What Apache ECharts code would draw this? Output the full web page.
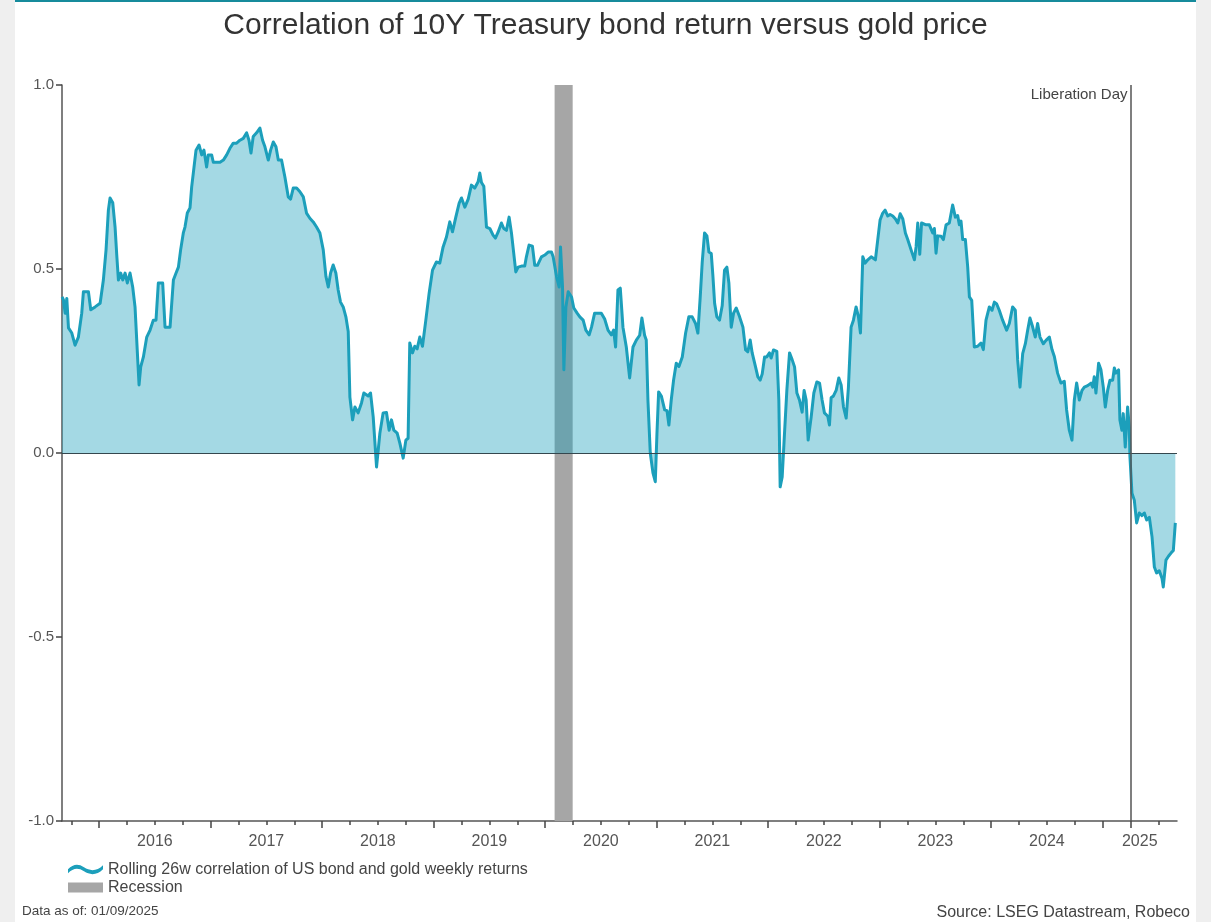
<!DOCTYPE html>
<html>
<head>
<meta charset="utf-8">
<title>Correlation of 10Y Treasury bond return versus gold price</title>
<script src="https://cdn.jsdelivr.net/npm/echarts@6/dist/echarts.min.js"></script>
<style>
  html, body { margin: 0; padding: 0; width: 1211px; height: 922px; background: #efefef; overflow: hidden; }
  #card { position: absolute; left: 15px; top: 0; width: 1181px; height: 922px; background: #fff; border-top: 2px solid #168b9c; box-sizing: border-box; }
  #chart { position: absolute; left: 0; top: 0; width: 1211px; height: 922px; }
</style>
</head>
<body>
<div id="card"></div>
<div id="chart"></div>
<script>
// Observation dates as decimal years (weekly series, Sep 2015 - Sep 2025)
const obsTime = [
  2015.668, 2015.680, 2015.695, 2015.710, 2015.725, 2015.755, 2015.784, 2015.814, 2015.844, 2015.859,
  2015.904, 2015.925, 2015.964, 2016.009, 2016.038, 2016.062, 2016.083, 2016.098, 2016.122, 2016.143,
  2016.158, 2016.173, 2016.194, 2016.212, 2016.233, 2016.253, 2016.277, 2016.301, 2016.322, 2016.343,
  2016.358, 2016.373, 2016.397, 2016.427, 2016.457, 2016.486, 2016.510, 2016.531, 2016.570, 2016.591,
  2016.636, 2016.666, 2016.690, 2016.711, 2016.731, 2016.755, 2016.770, 2016.791, 2016.815, 2016.830,
  2016.851, 2016.869, 2016.896, 2016.920, 2016.940, 2016.964, 2016.979, 2017.009, 2017.024, 2017.054,
  2017.084, 2017.114, 2017.144, 2017.173, 2017.203, 2017.233, 2017.263, 2017.293, 2017.323, 2017.344,
  2017.362, 2017.382, 2017.412, 2017.442, 2017.466, 2017.487, 2017.517, 2017.538, 2017.562, 2017.586,
  2017.607, 2017.636, 2017.666, 2017.696, 2017.717, 2017.741, 2017.771, 2017.801, 2017.831, 2017.860,
  2017.890, 2017.920, 2017.950, 2017.980, 2018.010, 2018.034, 2018.055, 2018.076, 2018.099, 2018.123,
  2018.144, 2018.165, 2018.189, 2018.213, 2018.234, 2018.249, 2018.273, 2018.294, 2018.323, 2018.353,
  2018.374, 2018.413, 2018.434, 2018.458, 2018.488, 2018.518, 2018.547, 2018.577, 2018.601, 2018.622,
  2018.643, 2018.673, 2018.697, 2018.727, 2018.751, 2018.771, 2018.786, 2018.810, 2018.831, 2018.852,
  2018.876, 2018.900, 2018.930, 2018.960, 2018.990, 2019.025, 2019.055, 2019.085, 2019.115, 2019.145,
  2019.169, 2019.199, 2019.229, 2019.250, 2019.280, 2019.310, 2019.339, 2019.369, 2019.399, 2019.414,
  2019.429, 2019.450, 2019.474, 2019.504, 2019.533, 2019.554, 2019.578, 2019.608, 2019.629, 2019.653,
  2019.677, 2019.698, 2019.713, 2019.737, 2019.758, 2019.788, 2019.817, 2019.832, 2019.856, 2019.886,
  2019.907, 2019.931, 2019.946, 2019.967, 2019.997, 2020.027, 2020.057, 2020.072, 2020.102, 2020.126,
  2020.138, 2020.156, 2020.168, 2020.186, 2020.207, 2020.237, 2020.257, 2020.287, 2020.311, 2020.341,
  2020.365, 2020.395, 2020.416, 2020.444, 2020.474, 2020.504, 2020.534, 2020.564, 2020.594, 2020.614,
  2020.632, 2020.653, 2020.674, 2020.698, 2020.728, 2020.758, 2020.788, 2020.818, 2020.848, 2020.868,
  2020.892, 2020.907, 2020.922, 2020.943, 2020.967, 2020.988, 2021.003, 2021.018, 2021.042, 2021.072,
  2021.093, 2021.110, 2021.131, 2021.152, 2021.176, 2021.200, 2021.230, 2021.260, 2021.289, 2021.319,
  2021.349, 2021.370, 2021.391, 2021.409, 2021.430, 2021.451, 2021.469, 2021.490, 2021.505, 2021.520,
  2021.540, 2021.564, 2021.588, 2021.609, 2021.630, 2021.648, 2021.669, 2021.690, 2021.714, 2021.744,
  2021.774, 2021.798, 2021.818, 2021.839, 2021.857, 2021.887, 2021.908, 2021.929, 2021.947, 2021.968,
  2021.988, 2022.012, 2022.027, 2022.048, 2022.078, 2022.096, 2022.108, 2022.126, 2022.147, 2022.168,
  2022.192, 2022.216, 2022.237, 2022.258, 2022.281, 2022.305, 2022.323, 2022.341, 2022.359, 2022.386,
  2022.410, 2022.437, 2022.461, 2022.484, 2022.505, 2022.535, 2022.550, 2022.565, 2022.586, 2022.610,
  2022.634, 2022.655, 2022.676, 2022.700, 2022.720, 2022.744, 2022.765, 2022.789, 2022.810, 2022.828,
  2022.849, 2022.870, 2022.894, 2022.924, 2022.962, 2022.983, 2023.004, 2023.028, 2023.049, 2023.073,
  2023.094, 2023.118, 2023.142, 2023.163, 2023.184, 2023.208, 2023.231, 2023.252, 2023.282, 2023.312,
  2023.327, 2023.342, 2023.360, 2023.376, 2023.386, 2023.416, 2023.446, 2023.476, 2023.491, 2023.506,
  2023.521, 2023.551, 2023.572, 2023.596, 2023.625, 2023.655, 2023.679, 2023.700, 2023.715, 2023.730,
  2023.745, 2023.769, 2023.790, 2023.805, 2023.826, 2023.849, 2023.879, 2023.909, 2023.930, 2023.954,
  2023.984, 2024.008, 2024.029, 2024.050, 2024.073, 2024.103, 2024.139, 2024.163, 2024.193, 2024.217,
  2024.238, 2024.259, 2024.283, 2024.307, 2024.328, 2024.348, 2024.372, 2024.396, 2024.417, 2024.438,
  2024.468, 2024.492, 2024.522, 2024.546, 2024.567, 2024.596, 2024.626, 2024.656, 2024.677, 2024.701,
  2024.725, 2024.746, 2024.767, 2024.791, 2024.815, 2024.836, 2024.866, 2024.896, 2024.911, 2024.925,
  2024.940, 2024.964, 2024.985, 2025.006, 2025.024, 2025.045, 2025.066, 2025.090, 2025.105, 2025.119,
  2025.143, 2025.155, 2025.173, 2025.185, 2025.203, 2025.224, 2025.239, 2025.245, 2025.263, 2025.284,
  2025.305, 2025.329, 2025.353, 2025.374, 2025.395, 2025.419, 2025.443, 2025.464, 2025.484, 2025.508,
  2025.532, 2025.544, 2025.568, 2025.592, 2025.613, 2025.634, 2025.652
];

// Rolling 26-week correlation of US 10Y bond and gold weekly returns
const rollingCorr = [
  0.424, 0.416, 0.380, 0.420, 0.340, 0.326, 0.293, 0.315, 0.380, 0.438,
  0.438, 0.389, 0.397, 0.407, 0.470, 0.552, 0.660, 0.693, 0.680, 0.614,
  0.538, 0.470, 0.489, 0.470, 0.489, 0.462, 0.489, 0.451, 0.397, 0.272,
  0.185, 0.234, 0.261, 0.315, 0.334, 0.361, 0.361, 0.462, 0.462, 0.342,
  0.342, 0.470, 0.489, 0.505, 0.552, 0.598, 0.614, 0.652, 0.666, 0.723,
  0.777, 0.823, 0.837, 0.810, 0.823, 0.777, 0.810, 0.810, 0.790, 0.790,
  0.790, 0.796, 0.810, 0.828, 0.842, 0.842, 0.850, 0.855, 0.870, 0.850,
  0.815, 0.860, 0.870, 0.883, 0.850, 0.832, 0.796, 0.823, 0.845, 0.832,
  0.796, 0.796, 0.750, 0.696, 0.690, 0.720, 0.720, 0.710, 0.696, 0.652,
  0.638, 0.628, 0.614, 0.598, 0.552, 0.480, 0.451, 0.489, 0.511, 0.489,
  0.443, 0.410, 0.397, 0.370, 0.330, 0.152, 0.090, 0.125, 0.109, 0.136,
  0.163, 0.155, 0.163, 0.098, -0.038, 0.054, 0.109, 0.110, 0.062, 0.090,
  0.062, 0.054, 0.027, -0.014, 0.035, 0.040, 0.299, 0.272, 0.290, 0.283,
  0.315, 0.290, 0.361, 0.435, 0.497, 0.519, 0.516, 0.560, 0.587, 0.628,
  0.601, 0.641, 0.679, 0.693, 0.668, 0.690, 0.728, 0.720, 0.737, 0.761,
  0.735, 0.725, 0.614, 0.610, 0.592, 0.584, 0.600, 0.625, 0.610, 0.605,
  0.641, 0.598, 0.598, 0.492, 0.505, 0.508, 0.508, 0.533, 0.565, 0.562,
  0.510, 0.510, 0.505, 0.533, 0.538, 0.546, 0.546, 0.533, 0.480, 0.451,
  0.560, 0.451, 0.226, 0.397, 0.438, 0.424, 0.394, 0.380, 0.370, 0.361,
  0.334, 0.321, 0.342, 0.380, 0.380, 0.380, 0.364, 0.334, 0.321, 0.334,
  0.288, 0.443, 0.448, 0.342, 0.288, 0.204, 0.288, 0.307, 0.320, 0.367,
  0.320, 0.307, 0.144, 0.000, -0.054, -0.078, 0.054, 0.166, 0.155, 0.117,
  0.115, 0.076, 0.144, 0.198, 0.244, 0.235, 0.261, 0.326, 0.370, 0.370,
  0.352, 0.326, 0.424, 0.519, 0.598, 0.590, 0.546, 0.542, 0.480, 0.407,
  0.370, 0.361, 0.400, 0.497, 0.505, 0.462, 0.342, 0.380, 0.394, 0.370,
  0.342, 0.280, 0.275, 0.307, 0.272, 0.234, 0.207, 0.198, 0.215, 0.261,
  0.261, 0.272, 0.258, 0.280, 0.276, 0.144, -0.092, -0.065, 0.054, 0.171,
  0.272, 0.253, 0.234, 0.163, 0.144, 0.111, 0.170, 0.144, 0.035, 0.098,
  0.163, 0.193, 0.190, 0.144, 0.109, 0.100, 0.076, 0.150, 0.155, 0.170,
  0.204, 0.185, 0.125, 0.095, 0.178, 0.342, 0.361, 0.397, 0.370, 0.326,
  0.533, 0.516, 0.525, 0.533, 0.525, 0.579, 0.633, 0.652, 0.660, 0.644,
  0.648, 0.644, 0.636, 0.625, 0.650, 0.636, 0.598, 0.580, 0.552, 0.525,
  0.560, 0.625, 0.540, 0.625, 0.625, 0.620, 0.620, 0.598, 0.610, 0.543,
  0.590, 0.589, 0.580, 0.620, 0.625, 0.674, 0.641, 0.645, 0.620, 0.630,
  0.580, 0.580, 0.505, 0.424, 0.415, 0.288, 0.290, 0.299, 0.281, 0.361,
  0.397, 0.388, 0.410, 0.405, 0.388, 0.361, 0.334, 0.352, 0.397, 0.388,
  0.253, 0.179, 0.270, 0.297, 0.334, 0.367, 0.343, 0.315, 0.352, 0.315,
  0.297, 0.306, 0.315, 0.281, 0.262, 0.217, 0.190, 0.195, 0.117, 0.062,
  0.035, 0.144, 0.190, 0.144, 0.170, 0.179, 0.183, 0.190, 0.179, 0.207,
  0.163, 0.244, 0.226, 0.179, 0.125, 0.170, 0.198, 0.198, 0.231, 0.217,
  0.226, 0.090, 0.062, 0.107, 0.016, 0.125, 0.071, -0.010, -0.109, -0.128,
  -0.190, -0.163, -0.170, -0.163, -0.182, -0.175, -0.228, -0.310, -0.326, -0.320,
  -0.340, -0.364, -0.291, -0.280, -0.272, -0.265, -0.190
];

// Axis range and tick definitions (decimal years)
const axisStart = 2015.667;   // 1 Sep 2015
const axisEnd = 2025.667;     // 1 Sep 2025
const yearTicks = [2016, 2017, 2018, 2019, 2020, 2021, 2022, 2023, 2024, 2025];
const yearLabelPos = [2016.5, 2017.5, 2018.5, 2019.5, 2020.5, 2021.5, 2022.5, 2023.5, 2024.5, 2025.333];
const yTicks = [-1, -0.5, 0, 0.5, 1];

// Events
const recessionSpan = [2020.085, 2020.247];   // Feb - Mar 2020
const liberationDay = 2025.25;                // 2 Apr 2025
const liberationLabel = 'Liberation Day';

const seriesName = 'Rolling 26w correlation of US bond and gold weekly returns';
const lineColor = '#1c9fbb';
const greyBar = '#a6a6a6';
const FONT = '"Liberation Sans", Arial, Helvetica, sans-serif';

// quarter ticks between year boundaries
const quarterTicks = [];
for (let y = 2015; y <= 2025; y++) {
  [0.25, 0.5, 0.75].forEach(q => {
    const v = y + q;
    if (v > axisStart && v < axisEnd) quarterTicks.push(v);
  });
}

const seriesData = obsTime.map((t, i) => [t, rollingCorr[i]]);

const chart = echarts.init(document.getElementById('chart'), null, { renderer: 'canvas' });

const wavePath = 'path://M0,8 C5,3 10,2 16,6 C22,10 29,10 35,4 L35,8 C29,14 22,14 16,10 C10,6 5,7 0,12 Z';

chart.setOption({
  animation: false,
  backgroundColor: 'transparent',
  textStyle: { fontFamily: FONT },
  title: {
    text: 'Correlation of 10Y Treasury bond return versus gold price',
    left: 'center',
    top: 6,
    textStyle: { fontSize: 30, fontWeight: 'normal', color: '#333', fontFamily: FONT }
  },
  grid: { left: 62, right: 34, top: 85, bottom: 101, containLabel: false },
  legend: {
    orient: 'vertical',
    left: 68,
    top: 861,
    itemWidth: 35,
    itemHeight: 10,
    itemGap: 1,
    padding: 0,
    selectedMode: false,
    textStyle: { fontSize: 16, color: '#444', lineHeight: 17, fontFamily: FONT },
    data: [
      { name: seriesName, icon: wavePath, itemStyle: { color: lineColor } },
      { name: 'Recession', icon: 'rect', itemStyle: { color: greyBar } }
    ]
  },
  xAxis: [
    {
      type: 'value',
      min: axisStart,
      max: axisEnd,
      position: 'bottom',
      axisLine: { show: true, onZero: false, lineStyle: { color: '#555', width: 1.5 } },
      axisTick: { show: true, customValues: yearTicks.concat([liberationDay]), length: 7, lineStyle: { color: '#444', width: 1.5 } },
      axisLabel: {
        show: true,
        customValues: yearLabelPos,
        formatter: v => String(Math.floor(v)),
        margin: 13,
        fontSize: 16,
        color: '#555',
        fontFamily: FONT
      },
      splitLine: { show: false }
    },
    {
      type: 'value',
      min: axisStart,
      max: axisEnd,
      position: 'bottom',
      axisLine: { show: false, onZero: false },
      axisTick: { show: true, customValues: quarterTicks, length: 4, lineStyle: { color: '#444', width: 1.5 } },
      axisLabel: { show: false },
      splitLine: { show: false }
    }
  ],
  yAxis: {
    type: 'value',
    min: yTicks[0],
    max: yTicks[yTicks.length - 1],
    interval: 0.5,
    axisLine: { show: true, lineStyle: { color: '#555', width: 1.5 } },
    axisTick: { show: true, length: 6, lineStyle: { color: '#444', width: 1.5 } },
    axisLabel: { margin: 8, fontSize: 15, color: '#555', fontFamily: FONT, formatter: v => v.toFixed(1) },
    splitLine: { show: false }
  },
  series: [
    {
      name: 'Recession',
      type: 'line',
      xAxisIndex: 0,
      data: [],
      color: greyBar,
      markArea: {
        silent: true,
        itemStyle: { color: greyBar, opacity: 1 },
        data: [[{ xAxis: recessionSpan[0] }, { xAxis: recessionSpan[1] }]]
      }
    },
    {
      name: seriesName,
      type: 'line',
      xAxisIndex: 0,
      data: seriesData,
      showSymbol: false,
      symbol: 'none',
      color: lineColor,
      lineStyle: { color: lineColor, width: 3, join: 'round' },
      areaStyle: { color: lineColor, opacity: 0.4 },
      markLine: {
        silent: true,
        symbol: 'none',
        label: { show: false },
        data: [
          { yAxis: 0, lineStyle: { color: '#34474e', width: 1.2, type: 'solid' } },
          { xAxis: liberationDay, lineStyle: { color: '#555', width: 1.5, type: 'solid' } }
        ]
      }
    }
  ],
  graphic: []
});

// Event label and footnotes, positioned from the axis scale
const libX = chart.convertToPixel({ xAxisIndex: 0 }, liberationDay);
const topY = chart.convertToPixel({ yAxisIndex: 0 }, 1);
chart.setOption({
  graphic: [
    {
      type: 'text', x: libX - 3, y: topY + 10, silent: true,
      style: { text: liberationLabel, fill: '#444', font: '15px ' + FONT, textAlign: 'right', textVerticalAlign: 'middle' }
    },
    {
      type: 'text', x: 22, y: 911, silent: true,
      style: { text: 'Data as of: 01/09/2025', fill: '#444', font: '13.5px ' + FONT, textAlign: 'left', textVerticalAlign: 'middle' }
    },
    {
      type: 'text', x: 1190, y: 913, silent: true,
      style: { text: 'Source: LSEG Datastream, Robeco', fill: '#444', font: '16px ' + FONT, textAlign: 'right', textVerticalAlign: 'middle' }
    }
  ]
});
</script>
</body>
</html>
